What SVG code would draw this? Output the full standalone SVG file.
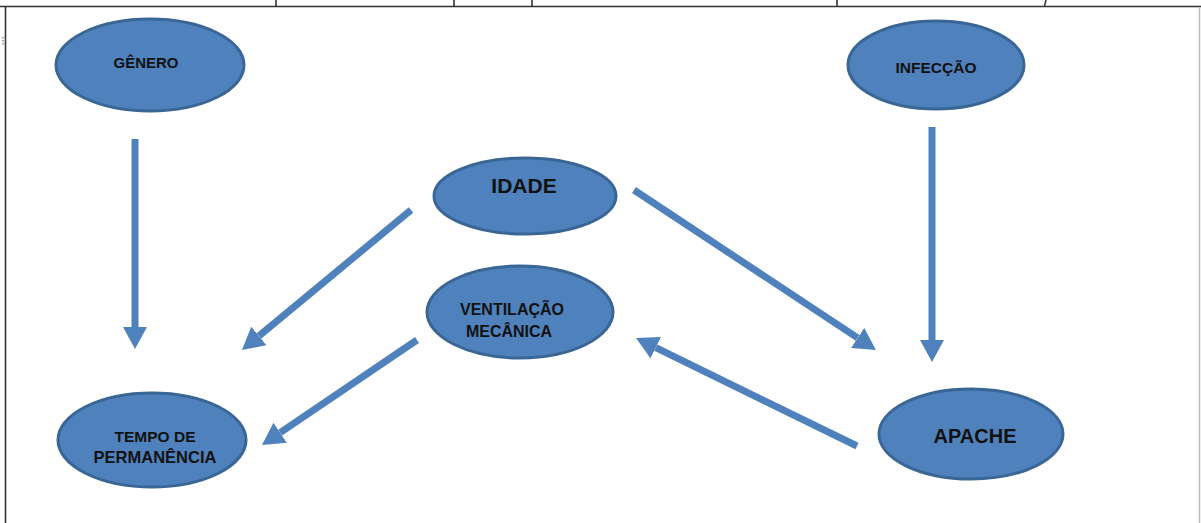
<svg xmlns="http://www.w3.org/2000/svg" width="1201" height="523" viewBox="0 0 1201 523">
  <style>
    .node { fill: #4f81bd; stroke: #3a6696; stroke-width: 3; }
    .label { font-family: "Liberation Sans", Arial, sans-serif; font-weight: bold; fill: #111; text-anchor: middle; }
    .edge { stroke: #4f81bd; stroke-width: 7; fill: none; marker-end: url(#head); }
    .frame { stroke: #333; stroke-width: 1.6; fill: none; }
  </style>
  <defs>
    <marker id="head" viewBox="0 0 22 24" refX="0" refY="12" markerWidth="22" markerHeight="24" markerUnits="userSpaceOnUse" orient="auto">
      <path d="M0,0 L22,12 L0,24 z" fill="#4f81bd"/>
    </marker>
  </defs>

  <rect width="1201" height="523" fill="#ffffff"/>

  <!-- table frame -->
  <g id="frame">
    <line class="frame" x1="0" y1="6.5" x2="1201" y2="6.5"/>
    <line class="frame" x1="5.5" y1="6" x2="5.5" y2="523"/>
    <line x1="1199.5" y1="7" x2="1199.5" y2="523" stroke="#bbbbbb" stroke-width="1.5"/>
    <line class="frame" x1="276" y1="0" x2="276" y2="6"/>
    <line class="frame" x1="454" y1="0" x2="454" y2="6"/>
    <line class="frame" x1="532" y1="0" x2="532" y2="6"/>
    <line class="frame" x1="837" y1="0" x2="837" y2="6"/>
    <line class="frame" x1="1046" y1="0" x2="1044.5" y2="6"/>
    <line x1="3" y1="37" x2="3" y2="45" stroke="#555" stroke-width="1" stroke-dasharray="1.5 1.5"/>
  </g>

  <!-- connectors -->
  <g id="connectors">
    <line class="edge" x1="135" y1="139" x2="135" y2="327"/>
    <line class="edge" x1="932" y1="127" x2="932" y2="340"/>
    <line class="edge" x1="411" y1="210" x2="258.9" y2="336"/>
    <line class="edge" x1="634" y1="190" x2="857.6" y2="337.9"/>
    <line class="edge" x1="417" y1="340" x2="280.2" y2="432.7"/>
    <line class="edge" x1="857" y1="446" x2="655.8" y2="347.7"/>
  </g>

  <g id="genero">
    <ellipse class="node" cx="150" cy="65" rx="94" ry="46"/>
    <text class="label" x="146" y="68" font-size="15">GÊNERO</text>
  </g>

  <g id="infeccao">
    <ellipse class="node" cx="936" cy="65" rx="88" ry="44"/>
    <text class="label" x="936" y="73" font-size="15.5">INFECÇÃO</text>
  </g>

  <g id="idade">
    <ellipse class="node" cx="525" cy="196" rx="91" ry="38"/>
    <text class="label" x="524" y="193" font-size="21">IDADE</text>
  </g>

  <g id="ventilacao">
    <ellipse class="node" cx="520" cy="312" rx="93" ry="46"/>
    <text class="label" x="512" y="315" font-size="16">VENTILAÇÃO</text>
    <text class="label" x="509" y="337" font-size="16">MECÂNICA</text>
  </g>

  <g id="tempo">
    <ellipse class="node" cx="152" cy="440" rx="94" ry="47"/>
    <text class="label" x="155" y="442" font-size="15.5">TEMPO DE</text>
    <text class="label" x="155" y="463" font-size="16.5">PERMANÊNCIA</text>
  </g>

  <g id="apache">
    <ellipse class="node" cx="971" cy="434" rx="92" ry="45"/>
    <text class="label" x="975" y="443" font-size="20">APACHE</text>
  </g>
</svg>
